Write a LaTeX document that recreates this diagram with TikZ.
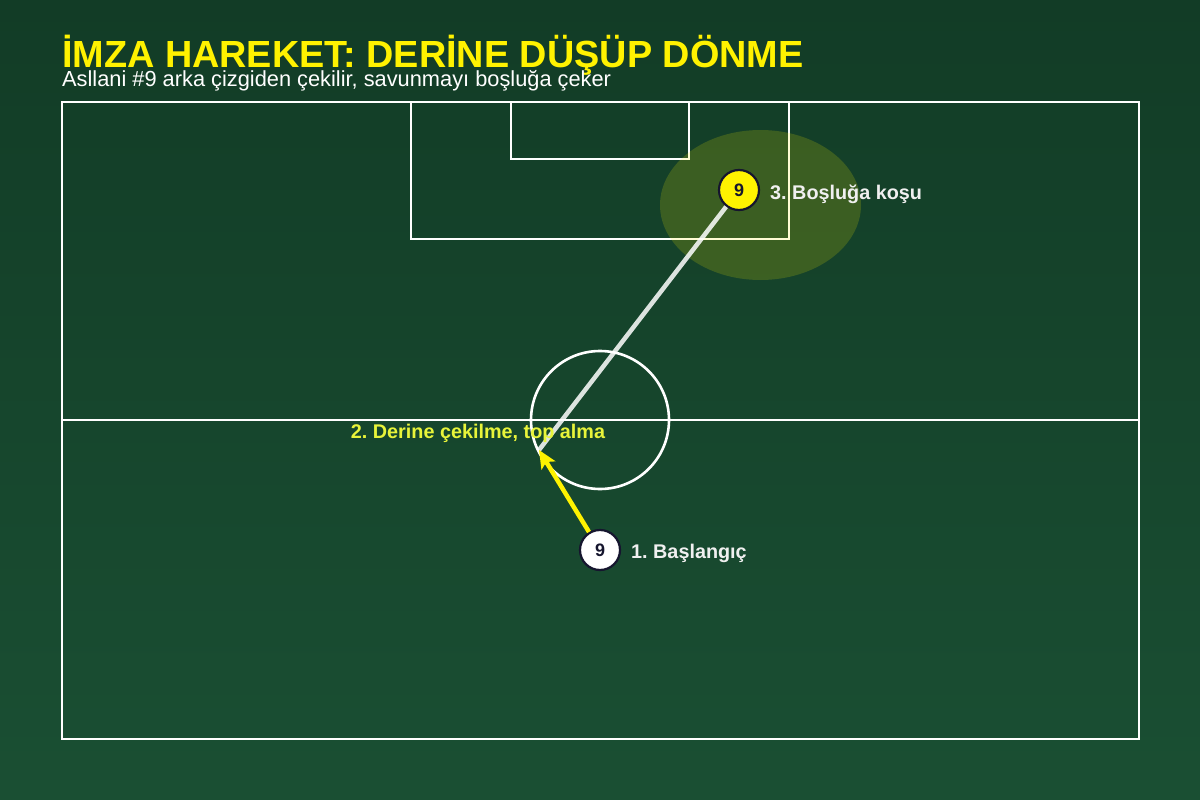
\documentclass[tikz,border=0pt]{standalone}
\usepackage{fontspec}
\setmainfont{Liberation Sans}
\frenchspacing
\usetikzlibrary{arrows.meta,positioning}
\definecolor{bgtop}{HTML}{123C26}
\definecolor{bgbot}{HTML}{1A4F33}
\definecolor{navy}{HTML}{15152E}
\definecolor{labyel}{HTML}{E8F43A}
\tikzset{
  pitchline/.style={draw=white,line width=2.6pt},
  player/.style={circle,draw=navy,line width=2.2pt,minimum size=40pt,inner sep=0pt,
    font=\fontsize{18}{18}\selectfont\bfseries,text=navy},
  plabel/.style={font=\fontsize{19.8}{20}\selectfont\bfseries,text=white!94!black,inner sep=0pt},
  runarrow/.style={draw=yellow,line width=4.5pt,-{Stealth[length=18pt,width=16pt,inset=4pt]}},
  runline/.style={draw=white,draw opacity=0.85,line width=4.5pt},
}
\begin{document}
\begin{tikzpicture}[x=1pt,y=-1pt]
\useasboundingbox (0,0) rectangle (1200,800);
\shade[top color=bgtop,bottom color=bgbot] (0,0) rectangle (1200,800);
% title
\node[anchor=base west,inner sep=0pt,text=yellow,font=\fontsize{37.8}{38}\selectfont\bfseries] (title) at (62,67.5) {İMZA HAREKET: DERİNE DÜŞÜP DÖNME};
\node[anchor=base west,inner sep=0pt,text=white,font=\fontsize{21.8}{22}\selectfont] (subtitle) at (62,86.5) {Asllani \#9 arka çizgiden çekilir, savunmayı boşluğa çeker};
% pitch
\draw[pitchline] (62,102) rectangle (1139,739);
\draw[pitchline] (62,420) -- (1139,420);
\draw[pitchline] (600,420) circle[radius=69];
\draw[pitchline] (411,102) rectangle (789,239);
\draw[pitchline] (511,102) rectangle (689,159);
% space highlight
\fill[yellow,fill opacity=0.17] (760.5,205) ellipse[x radius=100.5,y radius=75];
% players
\coordinate (p2) at (539,450);
\node[player,fill=white] (p1) at (600,550) {9};
\node[player,fill=yellow] (p3) at (739,190) {9};
\draw[runline] (p2) -- (p3);
\draw[runarrow] (p1) -- (p2);
% labels
\node[plabel,anchor=base west] (l1) at (631,558) {1. Başlangıç};
\node[plabel,anchor=base west] (l3) at (770,199) {3. Boşluğa koşu};
\node[plabel,anchor=base,text=labyel] (l2) at (478,438) {2. Derine çekilme, top alma};
\end{tikzpicture}
\end{document}
